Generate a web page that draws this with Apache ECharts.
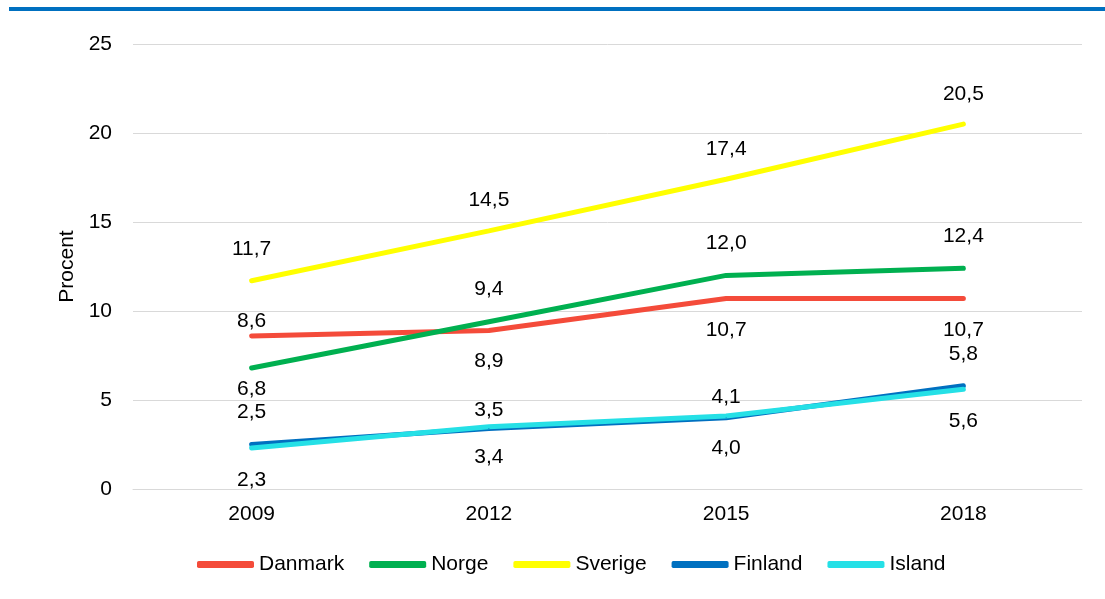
<!DOCTYPE html>
<html>
<head>
<meta charset="utf-8">
<script src="https://cdn.jsdelivr.net/npm/echarts@6/dist/echarts.min.js"></script>
<style>
  html, body { margin: 0; padding: 0; background: #fff; }
  #chart { width: 1105px; height: 599px; }
</style>
</head>
<body>
<div id="chart"></div>
<script>
const years = ["2009", "2012", "2015", "2018"];
const danmark = [8.6, 8.9, 10.7, 10.7];
const norge = [6.8, 9.4, 12.0, 12.4];
const sverige = [11.7, 14.5, 17.4, 20.5];
const finland = [2.5, 3.4, 4.0, 5.8];
const island = [2.3, 3.5, 4.1, 5.6];

// label placement per point (above/below the line)
const danmarkPos = ["top", "bottom", "bottom", "bottom"];
const norgePos = ["bottom", "top", "top", "top"];
const sverigePos = ["top", "top", "top", "top"];
const finlandPos = ["top", "bottom", "bottom", "top"];
const islandPos = ["bottom", "top", "top", "bottom"];
const danmarkDist = [4, 20, 21, 21];
const norgeDist = [10, 21, 21, 21];
const sverigeDist = [21, 20, 19, 19];
const finlandDist = [21, 18, 19, 21];
const islandDist = [21, 5, 8, 21];

const fmt = v => v.toFixed(1).replace(".", ",");
const font = "Liberation Sans";

function makeData(values, pos, dist) {
  return values.map((v, i) => ({
    value: v,
    label: { position: pos[i], distance: dist[i] }
  }));
}

function makeSeries(name, values, pos, dist, color) {
  return {
    name: name,
    type: "line",
    data: makeData(values, pos, dist),
    symbol: "circle",
    symbolSize: 1,
    itemStyle: { color: color },
    lineStyle: { color: color, width: 5, cap: "round" },
    label: {
      show: true,
      color: "#000",
      fontSize: 21,
      fontFamily: font,
      formatter: p => fmt(p.value)
    },
    emphasis: { disabled: true },
    animation: false
  };
}

const myChart = echarts.init(document.getElementById("chart"));

let option = {
  backgroundColor: "#fff",
  graphic: [
    {
      type: "rect",
      shape: { x: 9, y: 7, width: 1096, height: 4 },
      style: { fill: "#0070C0" }
    }
  ],
  grid: { left: 133, right: 23, top: 44, bottom: 110 },
  legend: {
    left: 192,
    top: 549,
    icon: "roundRect",
    itemWidth: 57,
    itemHeight: 7,
    itemGap: 25,
    textStyle: { fontSize: 21, color: "#000", fontFamily: font },
    data: ["Danmark", "Norge", "Sverige", "Finland", "Island"]
  },
  xAxis: {
    type: "category",
    data: years,
    axisLine: { show: true, lineStyle: { color: "#d9d9d9" } },
    axisTick: { show: false },
    axisLabel: { fontSize: 21, color: "#000", margin: 15, fontFamily: font }
  },
  yAxis: {
    type: "value",
    min: 0,
    max: 25,
    interval: 5,
    name: "Procent",
    nameLocation: "middle",
    nameRotate: 90,
    nameGap: 52,
    nameTextStyle: { fontSize: 21, color: "#000", fontFamily: font },
    axisLine: { show: false },
    axisTick: { show: false },
    axisLabel: { fontSize: 21, color: "#000", margin: 21, fontFamily: font },
    splitLine: { lineStyle: { color: "#d9d9d9", width: 1 } }
  },
  series: [
    makeSeries("Danmark", danmark, danmarkPos, danmarkDist, "#F44B3A"),
    makeSeries("Norge", norge, norgePos, norgeDist, "#00B050"),
    makeSeries("Sverige", sverige, sverigePos, sverigeDist, "#FFFF00"),
    makeSeries("Finland", finland, finlandPos, finlandDist, "#0070C0"),
    makeSeries("Island", island, islandPos, islandDist, "#25E0E6")
  ]
};
myChart.setOption(option);
</script>
</body>
</html>
